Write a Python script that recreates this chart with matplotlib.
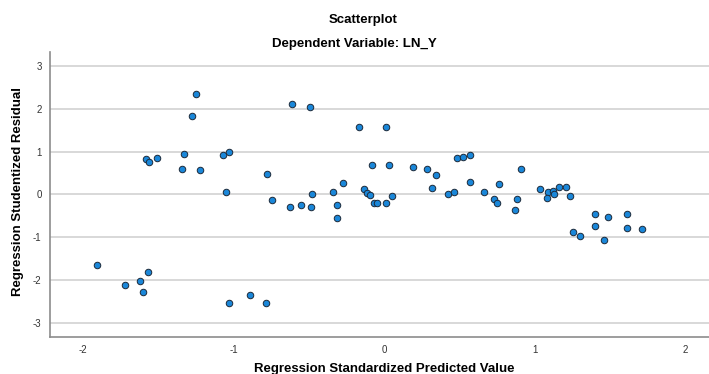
import numpy as np
import matplotlib.pyplot as plt

# Regression standardized predicted value (x) and studentized residual (y)
pred = [
    -1.249, -1.278, -1.585, -1.561, -1.508, -1.331, -1.342, -1.223, -1.070, -1.032, -1.052,
    -1.909, -1.721, -1.621, -1.568, -1.601, -1.032, -0.890, -0.784,
    -0.615, -0.494, -0.168, 0.013, -0.777, -0.746, -0.627, -0.556, -0.487, -0.480,
    -0.343, -0.312, -0.312, -0.276, -0.135, -0.113, -0.093, -0.084, 0.029,
    -0.068, -0.050, 0.009, 0.051,
    0.193, 0.282, 0.346, 0.315, 0.485, 0.521, 0.569, 0.571, 0.425, 0.463, 0.662,
    0.764, 0.729, 0.749, 0.908, 0.880, 0.868,
    1.039, 1.088, 1.119, 1.132, 1.083, 1.159, 1.207, 1.234, 1.252, 1.302, 1.398,
    1.400, 1.488, 1.458, 1.611, 1.611, 1.717,
]
resid = [
    2.336, 1.830, 0.825, 0.748, 0.841, 0.949, 0.584, 0.561, 0.918, 0.988, 0.054,
    -1.652, -2.112, -2.019, -1.815, -2.290, -2.533, -2.360, -2.540,
    2.117, 2.033, 1.565, 1.572, 0.481, -0.133, -0.290, -0.257, -0.290, 0.014,
    0.054, -0.243, -0.561, 0.271, 0.117, 0.023, -0.016, 0.678, 0.678,
    -0.196, -0.196, -0.196, -0.047,
    0.638, 0.591, 0.444, 0.147, 0.848, 0.871, 0.925, 0.294, 0.000, 0.061, 0.054,
    0.248, -0.117, -0.210, 0.598, -0.103, -0.367,
    0.117, 0.054, 0.084, 0.007, -0.093, 0.164, 0.171, -0.047, -0.874, -0.981, -0.467,
    -0.741, -0.537, -1.075, -0.467, -0.787, -0.818,
]
y_ticks = [-3, -2, -1, 0, 1, 2, 3]
x_ticks = [-2, -1, 0, 1, 2]

plt.rcParams['font.family'] = ['Liberation Sans', 'DejaVu Sans']
plt.rcParams['axes.unicode_minus'] = False

fig = plt.figure(figsize=(7.09, 3.74), dpi=100)
ax = fig.add_axes([50 / 709, 1 - 336.7 / 374, 659 / 709, (336.7 - 52) / 374])

ax.set_xlim(-2.221, 2.159)
ax.set_ylim(-3.327, 3.325)
ax.set_yticks(y_ticks)
ax.set_xticks(x_ticks)
ax.grid(axis='y', color='#d6d6d6', linewidth=1.3)
ax.set_axisbelow(True)

ax.scatter(pred, resid, s=22, color='#1a87d9', edgecolor='#1c2a3a',
           linewidth=0.7, zorder=3)

for side in ['top', 'right']:
    ax.spines[side].set_visible(False)
for side in ['left', 'bottom']:
    ax.spines[side].set_color('#8c8c8c')
    ax.spines[side].set_linewidth(1.2)

ax.tick_params(length=0, labelsize=7, labelcolor='#333333', pad=6)

# axis titles placed where the reference has them (x title runs off the bottom edge)
fig.text(384 / 709, 1 - 369 / 374, 'Regression Standardized Predicted Value',
         ha='center', va='center', fontsize=9.5, fontweight='bold')
fig.text(18 / 709, 1 - 191 / 374, 'Regression Studentized Residual',
         ha='center', va='center', rotation=90, fontsize=9.5, fontweight='bold')

fig.text(363 / 709, 1 - 20 / 374, 'Scatterplot', ha='center', va='center',
         fontsize=9.5, fontweight='bold')
fig.text(354 / 709, 1 - 44 / 374, 'Dependent Variable: LN_Y', ha='center',
         va='center', fontsize=9.5, fontweight='bold')

fig.savefig('out.png', dpi=100)
